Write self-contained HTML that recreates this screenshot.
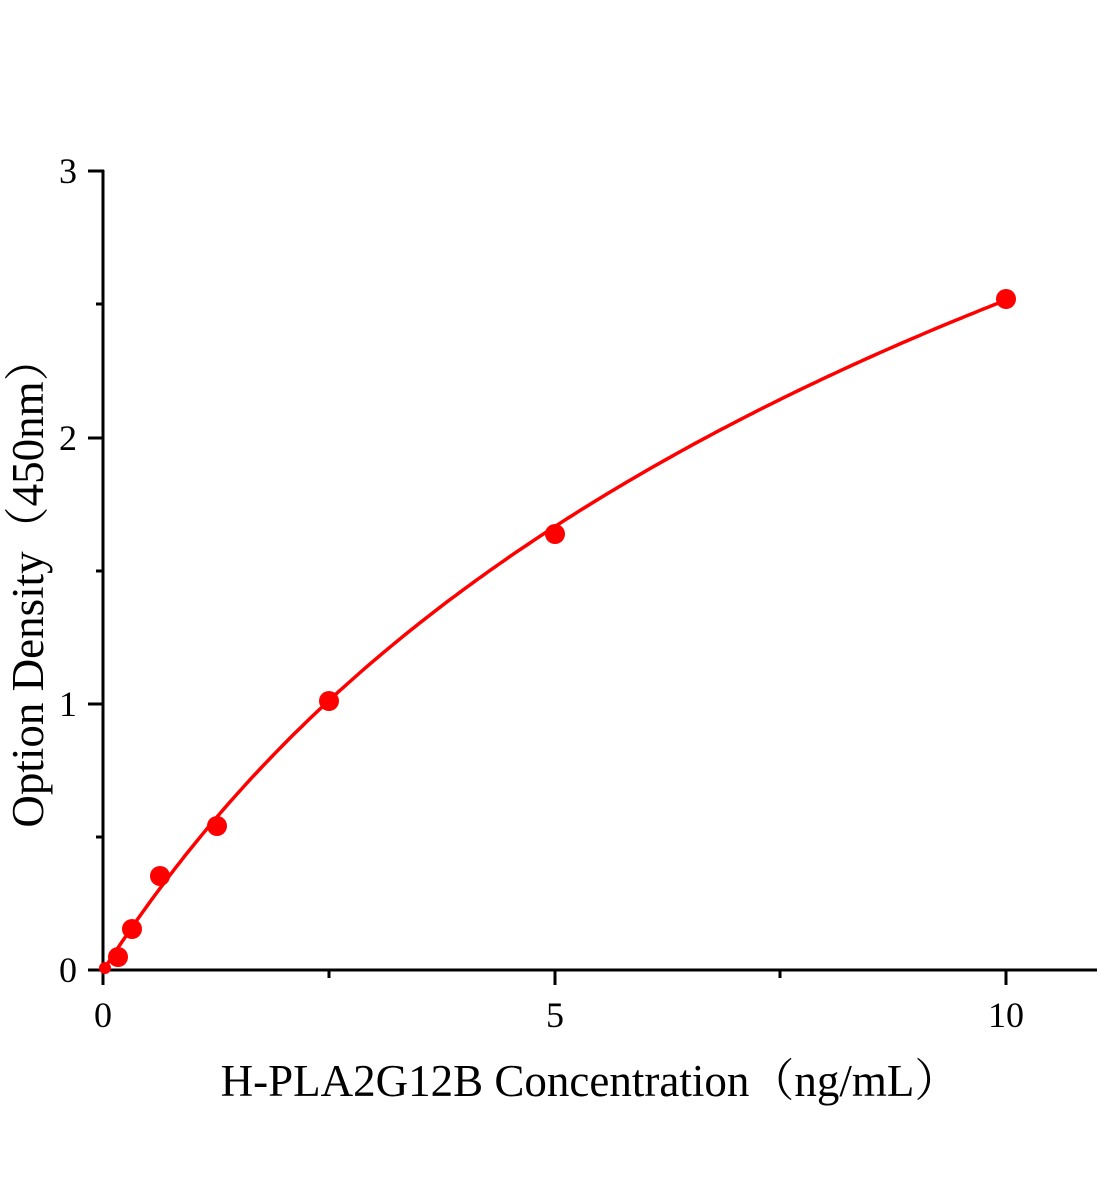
<!DOCTYPE html>
<html><head><style>body{margin:0;background:#fff}svg{display:block}</style></head>
<body>
<svg width="1104" height="1200" xmlns="http://www.w3.org/2000/svg" font-family="Liberation Serif, serif">
<g stroke="#000" stroke-width="3" fill="none">
<line x1="103" y1="170" x2="103" y2="971"/>
<line x1="88" y1="970" x2="1097" y2="970"/>
<line x1="88" y1="171" x2="104" y2="171"/>
<line x1="88" y1="438" x2="104" y2="438"/>
<line x1="88" y1="704" x2="104" y2="704"/>
<line x1="96" y1="304" x2="104" y2="304"/>
<line x1="96" y1="571" x2="104" y2="571"/>
<line x1="96" y1="837" x2="104" y2="837"/>
<line x1="103" y1="970" x2="103" y2="985"/>
<line x1="555" y1="970" x2="555" y2="985"/>
<line x1="1006" y1="970" x2="1006" y2="985"/>
<line x1="329" y1="970" x2="329" y2="978"/>
<line x1="780" y1="970" x2="780" y2="978"/>
</g>
<g font-size="36" fill="#000">
<text x="77" y="183" text-anchor="end">3</text>
<text x="77" y="450" text-anchor="end">2</text>
<text x="77" y="716" text-anchor="end">1</text>
<text x="77" y="982" text-anchor="end">0</text>
<text x="103" y="1027" text-anchor="middle">0</text>
<text x="555" y="1027" text-anchor="middle">5</text>
<text x="1006" y="1027" text-anchor="middle">10</text>
</g>
<text x="590" y="1096" font-size="45" text-anchor="middle" font-family="Liberation Serif, Noto Serif CJK SC, serif">H-PLA2G12B Concentration（ng/mL）</text>
<text transform="translate(43,582) rotate(-90)" font-size="45" text-anchor="middle" font-family="Liberation Serif, Noto Serif CJK SC, serif">Option Density（450nm）</text>
<path id="c" fill="none" stroke="#f00" stroke-width="3.5"/>
<g fill="#f00">
<circle cx="105" cy="968" r="6"/>
<circle cx="118" cy="957" r="10"/>
<circle cx="132" cy="929" r="10"/>
<circle cx="160" cy="876" r="10"/>
<circle cx="217" cy="826" r="10"/>
<circle cx="329" cy="701" r="10"/>
<circle cx="555" cy="534" r="10"/>
<circle cx="1006" cy="299" r="10"/>
</g>
<script>
var d="";for(var i=0;i<=200;i++){var x=i/20;var y=5.44*x/(11.6+x)+0.006*x*(10-x)*Math.exp(-x/3);d+=(i?"L":"M")+(103.5+x*90.25).toFixed(1)+","+(970-y*266).toFixed(1);}
document.getElementById("c").setAttribute("d",d);
</script>
</svg>
</body></html>
